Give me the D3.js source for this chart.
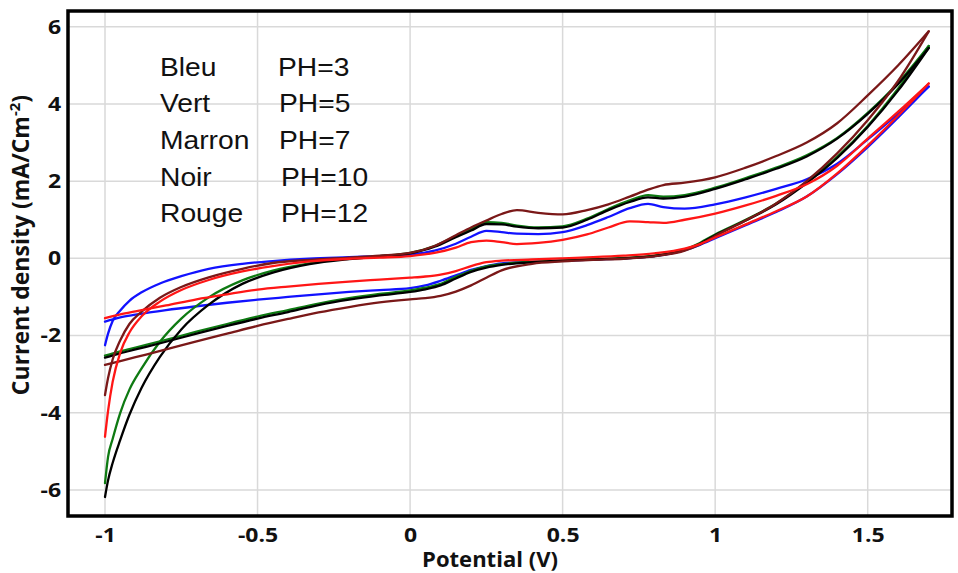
<!DOCTYPE html>
<html>
<head>
<meta charset="utf-8">
<script src="https://cdn.jsdelivr.net/npm/d3@7"></script>
<style>
  html, body { margin: 0; padding: 0; background: #fff; }
  svg { display: block; }
</style>
</head>
<body>
<svg id="chart" width="958" height="573"></svg>
<script>
// ---- Axis ticks ----
const xTicks = [-1, -0.5, 0, 0.5, 1, 1.5];
const xTickLabels = ["-1", "-0.5", "0", "0.5", "1", "1.5"];
const yTicks = [6, 4, 2, 0, -2, -4, -6];
const yTickLabels = ["6", "4", "2", "0", "-2", "-4", "-6"];

// ---- Legend ----
const seriesNames = ["Bleu", "Vert", "Marron", "Noir", "Rouge"];
const seriesPH = ["PH=3", "PH=5", "PH=7", "PH=10", "PH=12"];

// ---- Potential grids (V) for the two branches of each voltammogram ----
const upperV = [-1, -0.99, -0.975, -0.95, -0.92, -0.88, -0.82, -0.75, -0.66, -0.55,
                -0.45, -0.33, -0.2, -0.1, 0, 0.08, 0.15, 0.2, 0.25, 0.3,
                0.35, 0.42, 0.5, 0.58, 0.65, 0.72, 0.78, 0.83, 0.9, 1.0,
                1.1, 1.2, 1.3, 1.4, 1.5, 1.6, 1.7];
const lowerV = [-1, -0.95, -0.9, -0.8, -0.7, -0.6, -0.5, -0.4, -0.3, -0.2,
                -0.1, 0, 0.05, 0.1, 0.15, 0.2, 0.25, 0.3, 0.4, 0.5,
                0.6, 0.7, 0.8, 0.9, 0.95, 1.0, 1.1, 1.2, 1.3, 1.4,
                1.5, 1.6, 1.7];

// ---- Current density (mA/cm2) ----
// pH 3 (bleu)
const bleuUpper = [-2.25, -1.95, -1.62, -1.35, -1.1, -0.88, -0.65, -0.46, -0.27, -0.14,
                   -0.07, -0.01, 0.03, 0.06, 0.1, 0.2, 0.38, 0.56, 0.71, 0.68,
                   0.64, 0.63, 0.68, 0.86, 1.07, 1.3, 1.41, 1.33, 1.29, 1.4,
                   1.58, 1.8, 2.05, 2.45, 3.08, 3.75, 4.45];
const bleuLower = [-1.64, -1.53, -1.46, -1.34, -1.24, -1.15, -1.07, -1.0, -0.93, -0.87,
                   -0.82, -0.77, -0.7, -0.58, -0.44, -0.3, -0.2, -0.13, -0.09, -0.06,
                   -0.03, 0, 0.06, 0.21, 0.35, 0.52, 0.86, 1.2, 1.6, 2.18,
                   2.88, 3.65, 4.45];
// pH 5 (vert)
const vertUpper = [-5.82, -5.14, -4.68, -4.0, -3.4, -2.85, -2.16, -1.56, -1.01, -0.57,
                   -0.32, -0.13, 0, 0.06, 0.14, 0.32, 0.58, 0.76, 0.94, 0.92,
                   0.85, 0.8, 0.83, 1.03, 1.28, 1.5, 1.64, 1.6, 1.64, 1.83,
                   2.08, 2.35, 2.67, 3.12, 3.77, 4.55, 5.5];
const vertLower = [-2.52, -2.41, -2.31, -2.11, -1.9, -1.7, -1.51, -1.34, -1.17, -1.03,
                   -0.92, -0.83, -0.76, -0.66, -0.48, -0.32, -0.21, -0.15, -0.09, -0.05,
                   -0.02, 0.01, 0.07, 0.23, 0.4, 0.62, 1.0, 1.42, 1.98, 2.63,
                   3.43, 4.4, 5.5];
// pH 7 (marron)
const marronUpper = [-3.54, -3.1, -2.62, -2.12, -1.7, -1.38, -1.02, -0.74, -0.49, -0.27,
                     -0.12, -0.04, 0.02, 0.07, 0.14, 0.32, 0.6, 0.8, 0.98, 1.15,
                     1.25, 1.18, 1.14, 1.25, 1.4, 1.6, 1.78, 1.9, 1.96, 2.1,
                     2.35, 2.65, 3.0, 3.5, 4.22, 5.0, 5.88];
const marronLower = [-2.76, -2.66, -2.56, -2.36, -2.15, -1.95, -1.75, -1.57, -1.4, -1.26,
                     -1.14, -1.06, -1.03, -0.97, -0.86, -0.7, -0.5, -0.31, -0.14, -0.08,
                     -0.04, -0.01, 0.05, 0.2, 0.36, 0.58, 0.98, 1.42, 2.0, 2.72,
                     3.58, 4.6, 5.88];
// pH 10 (noir)
const noirUpper = [-6.18, -5.75, -5.3, -4.7, -4.05, -3.35, -2.55, -1.84, -1.2, -0.66,
                   -0.37, -0.15, -0.02, 0.05, 0.13, 0.3, 0.55, 0.72, 0.89, 0.88,
                   0.82, 0.78, 0.8, 1.0, 1.25, 1.46, 1.58, 1.55, 1.6, 1.8,
                   2.05, 2.32, 2.64, 3.1, 3.74, 4.52, 5.45];
const noirLower = [-2.57, -2.46, -2.36, -2.16, -1.95, -1.75, -1.56, -1.39, -1.21, -1.07,
                   -0.96, -0.87, -0.8, -0.7, -0.52, -0.35, -0.24, -0.17, -0.1, -0.06,
                   -0.03, 0, 0.06, 0.22, 0.38, 0.6, 0.98, 1.4, 1.95, 2.6,
                   3.4, 4.35, 5.45];
// pH 12 (rouge)
const rougeUpper = [-4.62, -3.95, -3.2, -2.44, -1.92, -1.5, -1.12, -0.82, -0.56, -0.34,
                    -0.2, -0.08, -0.01, 0.02, 0.06, 0.14, 0.28, 0.42, 0.46, 0.42,
                    0.37, 0.4, 0.48, 0.62, 0.8, 0.96, 0.94, 0.92, 1.0, 1.16,
                    1.37, 1.62, 1.92, 2.4, 3.1, 3.8, 4.53];
const rougeLower = [-1.55, -1.45, -1.37, -1.22, -1.06, -0.93, -0.81, -0.73, -0.66, -0.6,
                    -0.55, -0.5, -0.47, -0.42, -0.33, -0.2, -0.1, -0.06, -0.03, 0,
                    0.03, 0.07, 0.13, 0.25, 0.37, 0.54, 0.88, 1.22, 1.6, 2.2,
                    2.92, 3.7, 4.53];

// Draw order: later series sit on top
const series = [
  { upper: bleuUpper,   lower: bleuLower,   color: "#1212ff" },
  { upper: vertUpper,   lower: vertLower,   color: "#0e7a12" },
  { upper: noirUpper,   lower: noirLower,   color: "#000000" },
  { upper: marronUpper, lower: marronLower, color: "#7a1818" },
  { upper: rougeUpper,  lower: rougeLower,  color: "#ff1616" }
];

// ---- Layout ----
const svg = d3.select("#chart");
const plot = { left: 68, right: 952, top: 11, bottom: 516 };

const x = d3.scaleLinear().domain([-1.1213, 1.7763]).range([plot.left, plot.right]);
const y = d3.scaleLinear().domain([-6.673, 6.407]).range([plot.bottom, plot.top]);

// Grid
const grid = svg.append("g").attr("stroke", "#d9d9d9").attr("stroke-width", 1.5);
grid.selectAll("line.vx").data(xTicks).join("line")
  .attr("x1", d => x(d)).attr("x2", d => x(d))
  .attr("y1", plot.top).attr("y2", plot.bottom);
grid.selectAll("line.hy").data(yTicks).join("line")
  .attr("x1", plot.left).attr("x2", plot.right)
  .attr("y1", d => y(d)).attr("y2", d => y(d));

// Curves
const line = d3.line()
  .x(d => x(d[0]))
  .y(d => y(d[1]))
  .curve(d3.curveMonotoneX);

const curves = svg.append("g").attr("fill", "none")
  .attr("stroke-linejoin", "round").attr("stroke-linecap", "round");
series.forEach(s => {
  const up = upperV.map((v, i) => [v, s.upper[i]]);
  const lo = lowerV.map((v, i) => [v, s.lower[i]]);
  curves.append("path").attr("d", line(lo)).attr("stroke", s.color).attr("stroke-width", 2.3);
  curves.append("path").attr("d", line(up)).attr("stroke", s.color).attr("stroke-width", 2.3);
});

// Frame
svg.append("rect")
  .attr("x", plot.left).attr("y", plot.top)
  .attr("width", plot.right - plot.left).attr("height", plot.bottom - plot.top)
  .attr("fill", "none").attr("stroke", "#000").attr("stroke-width", 3.5);

// Axes
const tickFont = "'Open Sans', sans-serif";
const xAxis = d3.axisBottom(x).tickValues(xTicks)
  .tickFormat((d, i) => xTickLabels[i]).tickSize(0).tickPadding(12);
const gx = svg.append("g").attr("transform", `translate(0,${plot.bottom})`).call(xAxis);
gx.select(".domain").remove();
gx.selectAll("text")
  .attr("font-family", tickFont).attr("font-weight", 700).attr("font-size", 20)
  .attr("fill", "#111").attr("transform", "scale(1.15,1)");

const yAxis = d3.axisLeft(y).tickValues(yTicks)
  .tickFormat((d, i) => yTickLabels[i]).tickSize(0).tickPadding(6);
const gy = svg.append("g").attr("transform", `translate(${plot.left},0)`).call(yAxis);
gy.select(".domain").remove();
gy.selectAll("text")
  .attr("font-family", tickFont).attr("font-weight", 700).attr("font-size", 20)
  .attr("fill", "#111").attr("transform", "scale(1.15,1)");

// Axis titles
svg.append("text")
  .attr("transform", "translate(490,567) scale(1.05,1)")
  .attr("text-anchor", "middle")
  .attr("font-family", tickFont).attr("font-weight", 700).attr("font-size", 21)
  .attr("fill", "#111")
  .text("Potential (V)");

const yTitle = svg.append("text")
  .attr("transform", "translate(29,245) rotate(-90)")
  .attr("text-anchor", "middle")
  .attr("font-family", tickFont).attr("font-weight", 700).attr("font-size", 23)
  .attr("fill", "#111");
yTitle.append("tspan").text("Current density (mA/Cm");
yTitle.append("tspan").attr("dy", -9).attr("font-size", 15).text("-2");
yTitle.append("tspan").attr("dy", 9).text(")");

// Legend
const legend = svg.append("g")
  .attr("font-family", "'Liberation Sans', Arial, sans-serif")
  .attr("font-size", 25).attr("fill", "#111");
const legendBaselines = [75.5, 112, 148.5, 185.5, 221.5];
const phX = [278, 279, 279, 281, 281];
seriesNames.forEach((name, i) => {
  legend.append("text")
    .attr("transform", `translate(160,${legendBaselines[i]}) scale(1.13,1)`)
    .text(name);
  legend.append("text")
    .attr("transform", `translate(${phX[i]},${legendBaselines[i]}) scale(1.13,1)`)
    .text(seriesPH[i]);
});
</script>
</body>
</html>
